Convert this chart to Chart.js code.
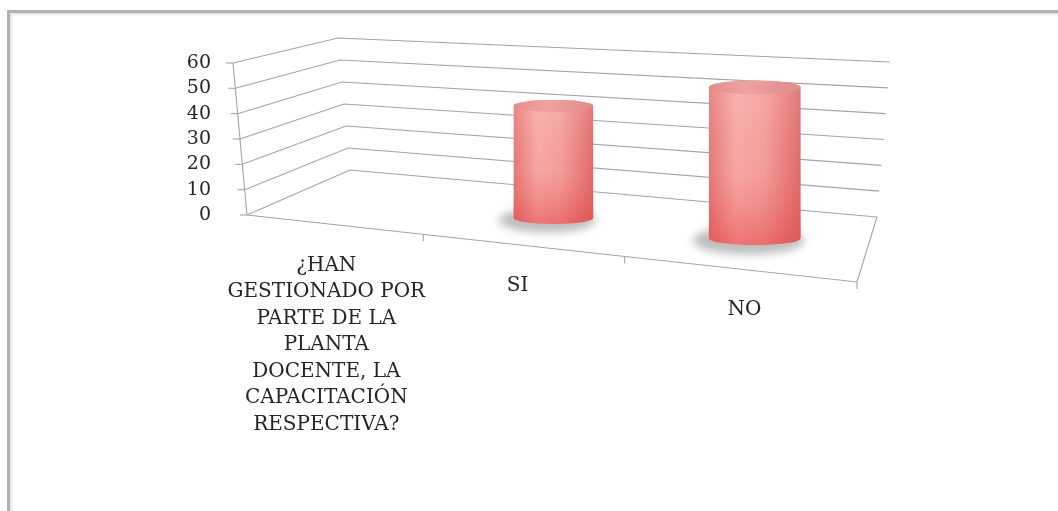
<!DOCTYPE html>
<html>
<head>
<meta charset="utf-8">
<script src="https://cdn.jsdelivr.net/npm/chart.js@4"></script>
<style>
html, body { margin: 0; padding: 0; background: #fff; }
#wrap { position: relative; width: 1058px; height: 511px; overflow: hidden; }
#frame { position: absolute; left: 7px; top: 10px; width: 1100px; height: 600px;
  border-top: 3px solid #b2b2b2; border-left: 3px solid #b2b2b2; box-shadow: inset 2px 2px 2px #e6e6e6; }
canvas { position: absolute; left: 0; top: 0; }
</style>
</head>
<body>
<div id="wrap"><div id="frame"></div><canvas id="c" width="1058" height="511"></canvas></div>
<script>
// datos (cilindros 3D de Excel)
const categories = [
    ['¿HAN', 'GESTIONADO POR', 'PARTE DE LA', 'PLANTA', 'DOCENTE, LA', 'CAPACITACIÓN', 'RESPECTIVA?'],
    'SI',
    'NO',
];
const values = [null, 44, 56];
const yTicks = [0, 10, 20, 30, 40, 50, 60];

const INK = '#262626';
const GRID = '#a4a4a4';
const FONT = '"DejaVu Serif", "Liberation Serif", serif';

// esquinas de la caja 3D, como desplazamientos desde el chartArea (px)
const BOX = {
    flt: [-14, 0], frb: [0, 67], frt: [15, 41],
    blb: [103, -45], blt: [91, -25], brb: [20, 2], brt: [33, -1],
};
const PERSP = 0.187; // el lado derecho queda más cerca

function projector(area) {
    const { left: L, right: R, top: T, bottom: B } = area;
    const FLB = [L, B], FLT = [L + BOX.flt[0], T + BOX.flt[1]];
    const FRB = [R + BOX.frb[0], B + BOX.frb[1]], FRT = [R + BOX.frt[0], T + BOX.frt[1]];
    const BLB = [L + BOX.blb[0], B + BOX.blb[1]], BLT = [L + BOX.blt[0], T + BOX.blt[1]];
    const BRB = [R + BOX.brb[0], B + BOX.brb[1]], BRT = [R + BOX.brt[0], T + BOX.brt[1]];
    const lerp = (a, b, t) => [a[0] + (b[0] - a[0]) * t, a[1] + (b[1] - a[1]) * t];
    return (u, v, w) => {
        const s = (1 - PERSP) * u / (1 - PERSP * u);
        const bot = lerp(lerp(FLB, FRB, s), lerp(BLB, BRB, s), w);
        const top = lerp(lerp(FLT, FRT, s), lerp(BLT, BRT, s), w);
        return lerp(bot, top, v);
    };
}

function line(ctx, pts) {
    ctx.beginPath();
    ctx.moveTo(pts[0][0], pts[0][1]);
    pts.slice(1).forEach((p) => ctx.lineTo(p[0], p[1]));
    ctx.stroke();
}

function drawCylinder(ctx, cx, by, ty, rx, ry) {
    ctx.save();
    ctx.filter = 'blur(4px)';
    ctx.fillStyle = 'rgba(110,110,110,0.45)';
    ctx.beginPath();
    ctx.ellipse(cx - 6, by + 2, rx * 1.22, ry * 2.1, 0, 0, Math.PI * 2);
    ctx.fill();
    ctx.restore();

    const body = () => {
        ctx.beginPath();
        ctx.moveTo(cx - rx, ty);
        ctx.lineTo(cx - rx, by);
        ctx.ellipse(cx, by, rx, ry, 0, Math.PI, 0, true);
        ctx.lineTo(cx + rx, ty);
        ctx.ellipse(cx, ty, rx, ry, 0, 0, -Math.PI, true);
        ctx.closePath();
    };
    const g = ctx.createLinearGradient(cx - rx, 0, cx + rx, 0);
    g.addColorStop(0, '#e67a78');
    g.addColorStop(0.3, '#f8aba8');
    g.addColorStop(0.6, '#f4a09d');
    g.addColorStop(1, '#e06c6a');
    body();
    ctx.fillStyle = g;
    ctx.fill();
    const v = ctx.createLinearGradient(0, ty, 0, by + ry);
    v.addColorStop(0, 'rgba(255,255,255,0.1)');
    v.addColorStop(0.55, 'rgba(230,80,80,0.06)');
    v.addColorStop(1, 'rgba(220,50,50,0.45)');
    body();
    ctx.fillStyle = v;
    ctx.fill();

    const t = ctx.createLinearGradient(cx - rx, 0, cx + rx, 0);
    t.addColorStop(0, '#e48d8b');
    t.addColorStop(0.4, '#eea2a0');
    t.addColorStop(1, '#e08c8a');
    ctx.beginPath();
    ctx.ellipse(cx, ty, rx, ry, 0, 0, Math.PI * 2);
    ctx.fillStyle = t;
    ctx.fill();
}

const box3d = {
    id: 'box3d',
    beforeDatasetsDraw(chart) {
        const { ctx, chartArea: a, scales: { y } } = chart;
        const P = projector(a);
        const vOf = (val) => (a.bottom - y.getPixelForValue(val)) / (a.bottom - a.top);
        ctx.save();
        ctx.strokeStyle = GRID;
        ctx.lineWidth = 1.1;
        yTicks.forEach((val) => {
            const v = vOf(val);
            const p0 = P(0, v, 0);
            line(ctx, [p0, P(0, v, 1), P(1, v, 1)]);
            line(ctx, [[p0[0] - 7, p0[1]], p0]);
        });
        line(ctx, [P(0, 0, 0), P(0, 1, 0)]);
        line(ctx, [P(0, 0, 0), P(1, 0, 0), P(1, 0, 1)]);
        const x = chart.scales.x;
        const n = categories.length;
        for (let k = 1; k <= n; k++) {
            const px = k < n ? (x.getPixelForTick(k - 1) + x.getPixelForTick(k)) / 2 : a.right;
            const p = P((px - a.left) / (a.right - a.left), 0, 0);
            line(ctx, [p, [p[0], p[1] + 7]]);
        }
        ctx.restore();
    },
    afterDatasetsDraw(chart) {
        const { ctx, chartArea: a, scales: { x } } = chart;
        const P = projector(a);
        const W = a.right - a.left;
        const meta = chart.getDatasetMeta(0);
        meta.data.forEach((bar, i) => {
            if (values[i] == null) return;
            const { x: bx, y: by, width } = bar.getProps(['x', 'y', 'width'], true);
            const uc = (bx - a.left) / W;
            const half = width / 2 / W;
            const v = (a.bottom - by) / (a.bottom - a.top);
            const b0 = P(uc, 0, 0.5);
            const t0 = P(uc, v, 0.5);
            const rx = (P(uc + half, 0, 0.5)[0] - P(uc - half, 0, 0.5)[0]) / 2;
            drawCylinder(ctx, b0[0], b0[1], t0[1], rx, rx * 0.15);
        });

        ctx.save();
        ctx.font = '20px ' + FONT;
        ctx.fillStyle = INK;
        ctx.textAlign = 'center';
        ctx.textBaseline = 'top';
        const shift = [-6, -3, 8]; // Excel desplaza un poco cada rótulo
        categories.forEach((lab, i) => {
            const p = P((x.getPixelForTick(i) - a.left) / W, 0, 0);
            const lines = Array.isArray(lab) ? lab : [lab];
            lines.forEach((ln, k) => ctx.fillText(ln, p[0] + shift[i], p[1] + 31 + k * 26.5));
        });
        ctx.restore();
    },
};

new Chart(document.getElementById('c'), {
    type: 'bar',
    data: {
        labels: categories,
        datasets: [{
            data: values,
            backgroundColor: 'rgba(0,0,0,0)',
            borderWidth: 0,
            categoryPercentage: 0.8,
            barPercentage: 0.53,
        }],
    },
    options: {
        responsive: false,
        animation: false,
        layout: { padding: { left: 0, top: 63, right: 201, bottom: 296 } },
        plugins: { legend: { display: false }, tooltip: { enabled: false } },
        scales: {
            x: { display: false },
            y: {
                min: yTicks[0],
                max: yTicks[yTicks.length - 1],
                afterBuildTicks: (s) => { s.ticks = yTicks.map((v) => ({ value: v })); },
                afterFit: (s) => { s.width = 247; },
                grid: { display: false, drawTicks: false },
                border: { display: false },
                ticks: { color: INK, padding: 36, autoSkip: false, font: { family: FONT, size: 19 } },
            },
        },
    },
    plugins: [box3d],
});
</script>
</body>
</html>
